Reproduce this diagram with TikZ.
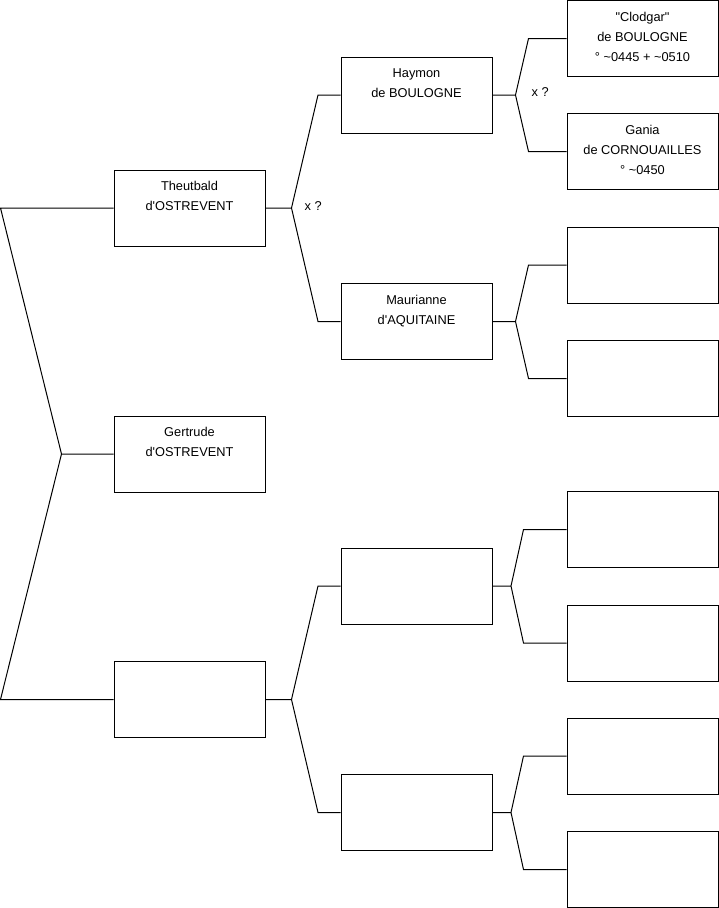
\documentclass[tikz,border=0pt]{standalone}
\usepackage{fontspec}
\newfontfamily\boxfont{Liberation Sans}
\usepackage{tikz}
\usetikzlibrary{calc,positioning}
\newcommand{\who}[1]{\parbox[c][52.6pt][t]{148pt}{\centering #1}}
\tikzset{
  person/.style={draw,line width=1pt,minimum width=151pt,minimum height=76pt,inner sep=0pt,font=\boxfont\fontsize{12.8pt}{19.8pt}\selectfont},
  link/.style={line width=1pt,line join=miter},
  lab/.style={font=\boxfont\fontsize{12.8pt}{15pt}\selectfont,inner sep=0pt,anchor=west}
}
\begin{document}
\begin{tikzpicture}[x=1pt,y=-1pt]
\useasboundingbox (0,0) rectangle (719,908);
\node[person] (theut) at (189.5,208) {\who{Theutbald\\d'OSTREVENT}};
\node[person] (gert) at (189.5,454) {\who{Gertrude\\d'OSTREVENT}};
\node[person] (unk) at (189.5,699.5) {};
\node[person] (hay) at (416.5,95) {\who{Haymon\\de BOULOGNE}};
\node[person] (maur) at (416.5,321.5) {\who{Maurianne\\d'AQUITAINE}};
\node[person] (u1) at (416.5,586) {};
\node[person] (u2) at (416.5,812.5) {};
\node[person] (clod) at (642.5,38.5) {\who{"Clodgar"\\de BOULOGNE\\° \textasciitilde0445 + \textasciitilde0510}};
\node[person] (gan) at (642.5,151.5) {\who{Gania\\de CORNOUAILLES\\° \textasciitilde0450}};
\node[person] (m1) at (642.5,265) {};
\node[person] (m2) at (642.5,378.5) {};
\node[person] (u1a) at (642.5,529.5) {};
\node[person] (u1b) at (642.5,643) {};
\node[person] (u2a) at (642.5,756) {};
\node[person] (u2b) at (642.5,869.5) {};
\draw[link] (theut.west) -- ++(-113,0) -- ($(gert.west)+(-52,0)$) -- ($(unk.west)+(-113,0)$) -- (unk.west) (gert.west) -- ++(-52,0);
\foreach \p/\u/\l/\h/\t in {theut/hay/maur/26/22.5,hay/clod/gan/23/38,maur/m1/m2/23/38,unk/u1/u2/26/22.5,u1/u1a/u1b/18.5/43,u2/u2a/u2b/18.5/43}
  \draw[link] (\u.west) -- ++(-\t,0) -- ($(\p.east)+(\h,0)$) -- ($(\l.west)+(-\t,0)$) -- (\l.west) (\p.east) -- ++(\h,0);
\node[lab] (xa) at ($(theut.east)+(39,-1.5)$) {x ?};
\node[lab] (xb) at ($(hay.east)+(39,-2.5)$) {x ?};
\end{tikzpicture}
\end{document}
